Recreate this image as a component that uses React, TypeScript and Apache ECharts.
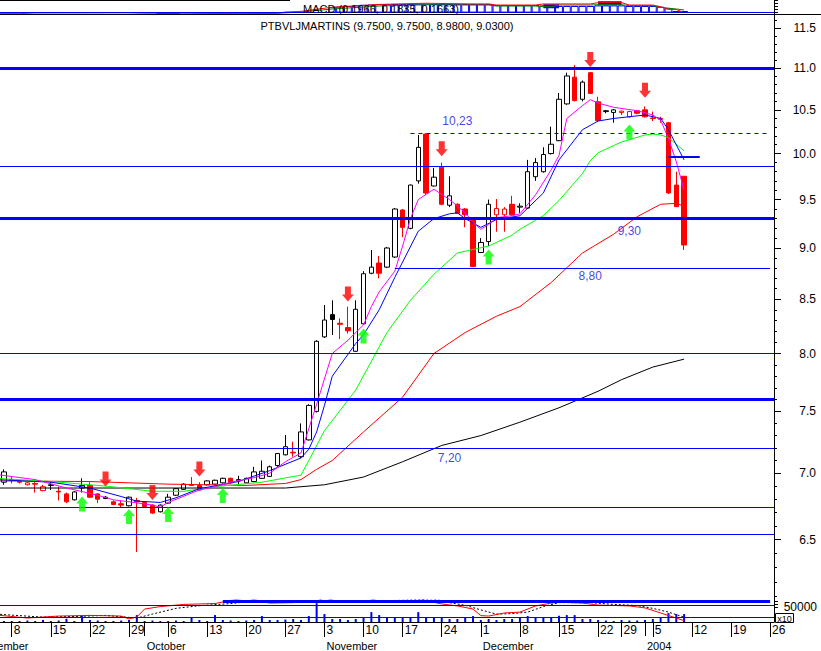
import React, { useEffect, useRef } from 'react';
import * as echarts from 'echarts';

const FONT = '"Liberation Sans", Arial, Helvetica, sans-serif';
const TITLE = 'PTBVLJMARTINS (9.7500, 9.7500, 8.9800, 9.0300)';
const TOP_TEXT = 'MACD (0.1966, 0.1835, 0.1663)';

const HOLIDAYS = ['2003-12-25', '2003-12-26', '2004-01-01'];
function tradingDays(start: string, end: string): string[] {
  const out: string[] = [];
  const d = new Date(start + 'T00:00:00Z');
  const e = new Date(end + 'T00:00:00Z');
  while (d.getTime() <= e.getTime()) {
    const wd = d.getUTCDay();
    const s = d.toISOString().slice(0, 10);
    if (wd !== 0 && wd !== 6 && HOLIDAYS.indexOf(s) < 0) out.push(s);
    d.setUTCDate(d.getUTCDate() + 1);
  }
  return out;
}
const days = tradingDays('2003-09-01', '2004-01-26');
const FIRST_CANDLE = '2003-09-05';

// OHLC, one per trading day from 2003-09-05 to 2004-01-09
const opens = [6.93,6.95,6.935,6.91,6.92,6.865,6.905,6.86,6.84,6.795,6.885,6.905,6.84,6.805,6.78,6.765,6.75,6.79,6.775,6.755,6.705,6.77,6.83,6.875,6.91,6.905,6.91,6.915,6.925,6.96,6.94,6.925,6.935,6.96,6.975,7.06,7.145,7.165,7.13,7.265,7.50,8.15,8.355,8.275,8.235,8.02,8.27,8.75,8.85,8.81,8.91,9.39,9.20,9.70,10.22,9.645,9.85,9.44,9.45,9.40,9.29,8.955,9.065,9.34,9.34,9.45,9.42,9.41,9.745,9.80,10.00,10.145,10.57,10.89,10.625,10.945,10.595,10.48,10.47,10.47,10.42,10.49,10.50,10.405,10.40,10.35,9.655,9.75];
const highs = [7.03,6.97,6.945,6.93,6.93,6.91,6.93,6.895,6.85,6.86,6.96,6.93,6.845,6.825,6.79,6.79,6.82,6.81,6.78,6.76,6.76,6.84,6.885,6.92,6.97,6.93,6.945,6.95,6.965,6.965,6.98,6.965,7.05,7.10,7.06,7.16,7.305,7.25,7.40,7.56,8.12,8.445,8.49,8.32,8.43,8.49,8.77,8.98,8.92,9.01,9.41,9.40,9.66,10.21,10.23,9.84,9.90,9.75,9.46,9.41,9.30,9.10,9.50,9.505,9.42,9.54,9.46,9.93,9.95,10.07,10.305,10.70,10.945,11.04,10.85,10.95,10.655,10.50,10.51,10.49,10.49,10.50,10.54,10.48,10.42,10.36,9.80,9.75];
const lows = [6.91,6.92,6.92,6.905,6.85,6.86,6.87,6.79,6.77,6.79,6.85,6.81,6.77,6.80,6.755,6.74,6.745,6.41,6.74,6.69,6.70,6.765,6.825,6.87,6.90,6.865,6.905,6.91,6.92,6.92,6.91,6.92,6.93,6.955,6.97,7.05,7.14,7.13,7.12,7.26,7.49,8.14,8.167,8.13,8.18,8.015,8.26,8.74,8.70,8.80,8.90,9.11,9.19,9.67,9.55,9.64,9.44,9.42,9.35,9.21,8.81,8.95,9.02,9.165,9.165,9.33,9.36,9.40,9.70,9.79,9.99,10.14,10.56,10.60,10.60,10.69,10.36,10.46,10.35,10.44,10.41,10.45,10.41,10.37,10.35,9.56,9.42,8.98];
const closes = [7.01,6.945,6.93,6.925,6.915,6.895,6.91,6.855,6.78,6.855,6.905,6.815,6.80,6.815,6.76,6.755,6.815,6.78,6.745,6.695,6.755,6.815,6.88,6.915,6.905,6.87,6.94,6.945,6.96,6.925,6.95,6.96,7.01,7.015,7.05,7.155,7.21,7.16,7.33,7.55,8.11,8.305,8.31,8.265,8.205,8.405,8.745,8.81,8.75,9.00,9.40,9.21,9.655,10.07,9.57,9.74,9.45,9.54,9.355,9.34,8.815,9.055,9.45,9.405,9.40,9.34,9.43,9.80,9.90,9.99,10.105,10.625,10.905,10.61,10.83,10.695,10.375,10.49,10.50,10.485,10.48,10.46,10.42,10.40,10.39,9.57,9.425,9.03];
const volumes = [3300,3300,3300,5000,3300,6700,3300,5000,11000,3300,20000,6700,5000,3300,3300,5000,6700,23300,3300,5000,3300,3300,5000,3300,16700,6700,3300,23300,6700,5000,3300,5000,6700,20000,6700,6700,8300,10000,6700,20000,63300,26700,10000,10000,6700,10000,16700,33300,23300,16700,16700,13300,16700,33300,16700,16700,13300,10000,10000,16700,20000,6700,10000,6700,10000,10000,16700,20000,16700,16700,16700,21000,23300,23300,10000,10000,6700,5000,3300,6700,5000,5000,6700,10000,13300,30000,26700,26700];

// moving-average style lines at sample dates
const maFast: [string, number][] = [['2003-09-04',6.99],['2003-09-11',6.95],['2003-09-17',6.885],['2003-09-23',6.83],['2003-09-25',6.795],['2003-09-29',6.78],['2003-10-02',6.755],['2003-10-03',6.74],['2003-10-06',6.775],['2003-10-10',6.87],['2003-10-14',6.895],['2003-10-16',6.93],['2003-10-21',6.965],['2003-10-23',7.00],['2003-10-27',7.09],['2003-10-29',7.16],['2003-10-31',7.56],['2003-11-04',8.00],['2003-11-06',8.12],['2003-11-10',8.26],['2003-11-11',8.43],['2003-11-12',8.57],['2003-11-14',8.77],['2003-11-17',9.02],['2003-11-18',9.30],['2003-11-19',9.50],['2003-11-21',9.61],['2003-11-25',9.50],['2003-11-26',9.43],['2003-11-27',9.36],['2003-11-28',9.26],['2003-12-01',9.19],['2003-12-02',9.24],['2003-12-03',9.31],['2003-12-05',9.33],['2003-12-08',9.35],['2003-12-10',9.55],['2003-12-12',9.82],['2003-12-15',9.98],['2003-12-16',10.40],['2003-12-18',10.55],['2003-12-19',10.62],['2003-12-22',10.58],['2003-12-24',10.53],['2003-12-31',10.49],['2004-01-05',10.44],['2004-01-06',10.38],['2004-01-07',10.17],['2004-01-08',9.91],['2004-01-09',9.60]];
const maBlue: [string, number][] = [['2003-09-04',6.95],['2003-09-15',6.93],['2003-09-22',6.885],['2003-09-26',6.82],['2003-09-30',6.785],['2003-10-03',6.775],['2003-10-07',6.81],['2003-10-10',6.88],['2003-10-17',6.935],['2003-10-23',7.02],['2003-10-29',7.12],['2003-10-30',7.19],['2003-10-31',7.33],['2003-11-03',7.55],['2003-11-04',7.80],['2003-11-07',8.09],['2003-11-10',8.17],['2003-11-12',8.40],['2003-11-14',8.71],['2003-11-19',9.17],['2003-11-21',9.30],['2003-11-25',9.35],['2003-11-26',9.36],['2003-11-27',9.30],['2003-12-01',9.21],['2003-12-03',9.29],['2003-12-08',9.33],['2003-12-11',9.57],['2003-12-15',9.93],['2003-12-18',10.27],['2003-12-22',10.37],['2003-12-24',10.40],['2003-12-30',10.42],['2004-01-02',10.44],['2004-01-06',10.40],['2004-01-07',10.27],['2004-01-09',9.93]];
const maGreen: [string, number][] = [['2003-09-04',6.96],['2003-09-15',6.935],['2003-09-24',6.90],['2003-10-02',6.86],['2003-10-08',6.86],['2003-10-14',6.895],['2003-10-22',6.93],['2003-10-29',6.985],['2003-10-30',7.10],['2003-11-03',7.34],['2003-11-07',7.68],['2003-11-13',8.19],['2003-11-18',8.49],['2003-11-21',8.74],['2003-11-26',8.95],['2003-12-02',9.02],['2003-12-05',9.13],['2003-12-08',9.19],['2003-12-11',9.33],['2003-12-15',9.49],['2003-12-18',9.78],['2003-12-19',9.92],['2003-12-22',10.01],['2003-12-29',10.13],['2004-01-02',10.21],['2004-01-05',10.22],['2004-01-06',10.21],['2004-01-07',10.18],['2004-01-09',10.03]];
const maRed: [string, number][] = [['2003-09-04',6.94],['2003-09-22',6.935],['2003-10-06',6.915],['2003-10-20',6.905],['2003-10-27',6.92],['2003-10-29',6.95],['2003-10-31',7.03],['2003-11-04',7.10],['2003-11-10',7.33],['2003-11-17',7.62],['2003-11-21',8.00],['2003-11-27',8.19],['2003-12-03',8.34],['2003-12-08',8.43],['2003-12-12',8.66],['2003-12-18',8.95],['2003-12-24',9.14],['2003-12-31',9.32],['2004-01-06',9.45],['2004-01-08',9.46],['2004-01-09',9.43]];
const maBlack: [string, number][] = [['2003-09-04',6.885],['2003-10-27',6.885],['2003-11-03',6.91],['2003-11-10',6.97],['2003-11-17',7.09],['2003-11-24',7.22],['2003-12-01',7.30],['2003-12-08',7.41],['2003-12-15',7.53],['2003-12-22',7.67],['2003-12-29',7.77],['2004-01-05',7.88],['2004-01-09',7.95]];

// signal arrows
const sellArrows: [string, number][] = [['2003-09-24',6.954],['2003-10-02',6.851],['2003-10-10',7.032],['2003-11-06',8.55],['2003-11-24',10.055],['2003-12-19',11.107],['2004-01-02',10.732]];
const buyArrows: [string, number][] = [['2003-09-19',6.763],['2003-09-29',6.670],['2003-10-06',6.684],['2003-10-15',6.828],['2003-11-10',8.158],['2003-12-02',8.91],['2003-12-30',10.244]];

// horizontal levels
const thickLevels = [11.0, 9.3, 7.6];
const thinLevels = [9.86, 8.0, 7.2, 6.74, 6.54];
const dashedLevel = { from: '2003-11-18', value: 10.23 };
const partialLevel = { from: '2003-11-14', value: 8.8 };
const shortLevel = { from: '2004-01-07', to: '2004-01-13', value: 9.96 };
const levelLabels: [string, number, string][] = [['2003-11-26', 10.37, '10,23'], ['2003-12-30', 9.17, '9,30'], ['2003-12-19', 8.72, '8,80'], ['2003-11-25', 7.12, '7,20']];

// top indicator panel
const HIST_START = '2003-11-04';
const macdHist = [0.45,0.5,0.55,0.6,0.65,0.68,0.7,0.7,0.72,0.72,0.72,0.74,0.74,0.72,0.72,0.72,0.72,0.72,0.72,0.72,0.72,0.63,0.63,0.63,0.63,0.63,0.63,0.6,0.6,0.55,0.55,0.55,0.55,0.55,0.6,0.6,0.6,0.6,0.55,0.55,0.55,0.55,0.49,0.36,0.13,0.13];
const macdNeg: [string, number][] = [['2003-10-03',-0.2],['2003-10-06',-0.2],['2003-10-07',-0.2]];
const macdBlock: [string, number | null][] = [['2003-12-11',0.53],['2003-12-12',0.53],['2003-12-15',0.53],['2003-12-16',null],['2003-12-22',0.77],['2003-12-23',0.77],['2003-12-24',0.77],['2003-12-29',0.77]];
const macdRed: [string, number][] = [['2003-09-04',-0.06],['2003-09-09',-0.06],['2003-09-11',-0.14],['2003-09-29',-0.14],['2003-10-01',-0.1],['2003-10-09',-0.1],['2003-10-17',-0.06],['2003-10-24',-0.06],['2003-10-27',0.05],['2003-10-29',0.1],['2003-11-04',0.45],['2003-11-12',0.68],['2003-11-20',0.78],['2003-11-28',0.72],['2003-12-02',0.72],['2003-12-03',0.63],['2003-12-10',0.63],['2003-12-11',0.72],['2003-12-19',0.72],['2003-12-22',0.83],['2003-12-29',0.83],['2003-12-30',0.63],['2004-01-05',0.63],['2004-01-06',0.49],['2004-01-07',0.27],['2004-01-08',0.27],['2004-01-09',-0.01]];
const macdGreen: [string, number][] = [['2003-09-04',-0.12],['2003-10-01',-0.15],['2003-10-02',-0.17],['2003-10-09',-0.12],['2003-10-13',-0.1],['2003-10-20',-0.1],['2003-10-24',-0.05],['2003-10-29',0.05],['2003-11-04',0.3],['2003-11-12',0.55],['2003-11-20',0.65],['2003-11-28',0.63],['2003-12-02',0.63],['2003-12-03',0.55],['2003-12-10',0.55],['2003-12-11',0.49],['2003-12-12',0.49],['2003-12-15',0.63],['2003-12-19',0.63],['2003-12-22',0.66],['2003-12-29',0.66],['2003-12-30',0.58],['2004-01-05',0.58],['2004-01-06',0.44],['2004-01-08',0.3],['2004-01-09',0.22]];

// lower oscillator panel
const oscRed: [string, number][] = [['2003-09-04',0.32],['2003-09-10',0.18],['2003-09-16',0.27],['2003-09-22',0.30],['2003-09-26',0.27],['2003-09-29',0.14],['2003-09-30',0.23],['2003-10-01',0.59],['2003-10-03',0.70],['2003-10-08',0.80],['2003-10-14',0.84],['2003-10-16',0.98],['2003-10-20',1.1],['2003-10-23',0.86],['2003-10-28',0.88],['2003-10-31',0.95],['2003-11-03',1.1],['2003-11-05',0.9],['2003-11-10',0.9],['2003-11-12',1.1],['2003-11-19',1.1],['2003-11-20',0.97],['2003-11-24',0.82],['2003-11-26',0.73],['2003-11-28',0.59],['2003-12-01',0.29],['2003-12-02',0.27],['2003-12-04',0.41],['2003-12-08',0.45],['2003-12-10',0.73],['2003-12-12',0.86],['2003-12-15',0.90],['2003-12-18',0.86],['2003-12-22',0.77],['2003-12-30',0.73],['2004-01-02',0.64],['2004-01-06',0.41],['2004-01-08',0.18],['2004-01-09',0.06]];
const oscBlack: [string, number][] = [['2003-09-04',0.36],['2003-09-12',0.22],['2003-09-18',0.25],['2003-09-24',0.30],['2003-09-30',0.18],['2003-10-02',0.36],['2003-10-07',0.62],['2003-10-10',0.74],['2003-10-16',0.84],['2003-10-21',0.95],['2003-10-24',0.93],['2003-10-29',0.90],['2003-11-03',0.95],['2003-11-07',0.93],['2003-11-12',0.95],['2003-11-21',1.05],['2003-11-25',0.88],['2003-11-27',0.76],['2003-12-01',0.55],['2003-12-03',0.36],['2003-12-05',0.38],['2003-12-09',0.45],['2003-12-11',0.70],['2003-12-15',0.88],['2003-12-19',0.88],['2003-12-24',0.80],['2003-12-31',0.75],['2004-01-05',0.62],['2004-01-07',0.45],['2004-01-09',0.22]];
const oscLevels = [0.76, 0.21];
const oscThick = { from: '2003-10-15', value: 0.955 };

const majorTicks = [6.5, 7.0, 7.5, 8.0, 8.5, 9.0, 9.5, 10.0, 10.5, 11.0, 11.5];
const MONTHS = ['January', 'February', 'March', 'April', 'May', 'June', 'July', 'August', 'September', 'October', 'November', 'December'];

const PMIN = 6.0762;
const PMAX = 11.6727;
const VMAX = 74000;

function buildOption() {
  const LAST = days[days.length - 1];
  const GL = -31.27;
  const GR = 47;
  const first = days.indexOf(FIRST_CANDLE);
  const isMonday = days.map((d) => new Date(d + 'T00:00:00Z').getUTCDay() === 1);
  const showDay = days.map((d, i) => isMonday[i] && i >= first);
  const isMonthStart = days.map((d, i) => i === 0 || d.slice(5, 7) !== days[i - 1].slice(5, 7));
  const candleDays = days.slice(first, first + opens.length);

  const minorTicks: number[] = [];
  for (let k = 61; k <= 116; k++) {
    if (k % 5 !== 0) minorTicks.push(k / 10);
  }

  const candleData = opens.map((o, k) => {
    const c = closes[k];
    const prev = k > 0 ? closes[k - 1] : -Infinity;
    const col = c >= prev ? '#000000' : '#ff0000';
    const fill = c > o ? '#ffffff' : col;
    return {
      value: [candleDays[k], o, c, lows[k], highs[k]],
      itemStyle: { color: fill, color0: fill, borderColor: col, borderColor0: col, borderWidth: 1 },
    };
  });

  const histStart = days.indexOf(HIST_START);
  const histData = macdHist.map((v, k) => [days[histStart + k], v]);
  const volData = volumes.map((v, k) => [candleDays[k], v]);

  const blueLevel = '#0000ff';
  const mainLevels: any[] = [];
  thickLevels.forEach((v) => mainLevels.push({ yAxis: v, lineStyle: { color: blueLevel, width: 3, type: 'solid' } }));
  thinLevels.forEach((v) => mainLevels.push({ yAxis: v, lineStyle: { color: blueLevel, width: 1, type: 'solid' } }));
  mainLevels.push([
    { coord: [dashedLevel.from, dashedLevel.value], lineStyle: { color: blueLevel, width: 1, type: [4, 4] } },
    { coord: [LAST, dashedLevel.value] },
  ]);
  mainLevels.push([
    { coord: [partialLevel.from, partialLevel.value], lineStyle: { color: blueLevel, width: 1, type: 'solid' } },
    { coord: [LAST, partialLevel.value] },
  ]);
  mainLevels.push([
    { coord: [shortLevel.from, shortLevel.value], lineStyle: { color: blueLevel, width: 2, type: 'solid' } },
    { coord: [shortLevel.to, shortLevel.value] },
  ]);

  const lowerLevels: any[] = oscLevels.map((v) => ({ yAxis: v, lineStyle: { color: blueLevel, width: 1, type: 'solid' } }));
  lowerLevels.push([
    { coord: [oscThick.from, oscThick.value], lineStyle: { color: blueLevel, width: 3, type: 'solid' } },
    { coord: [LAST, oscThick.value] },
  ]);

  const maLine = (data: [string, number][], color: string, extra: any = {}) => ({
    type: 'line',
    xAxisIndex: 1,
    yAxisIndex: 1,
    data,
    showSymbol: false,
    symbol: 'none',
    lineStyle: { color, width: 1 },
    itemStyle: { color },
    z: 3,
    silent: true,
    ...extra,
  });

  const gridBase = { left: GL, right: GR, containLabel: false, outerBoundsMode: 'none' };

  return {
    animation: false,
    backgroundColor: '#ffffff',
    textStyle: { fontFamily: FONT },
    grid: [
      { ...gridBase, top: 0, height: 15 },
      { ...gridBase, top: 15, height: 585 },
      { ...gridBase, top: 600, height: 22 },
    ],
    xAxis: [
      { type: 'category', gridIndex: 0, data: days, boundaryGap: true, show: false },
      { type: 'category', gridIndex: 1, data: days, boundaryGap: true, show: false },
      {
        type: 'category', gridIndex: 2, data: days, boundaryGap: true, position: 'bottom',
        axisLine: { show: true, lineStyle: { color: '#000', width: 1 } },
        axisTick: { show: true, alignWithLabel: true, length: 15, interval: (i: number) => isMonday[i], lineStyle: { color: '#000', width: 1 } },
        axisLabel: {
          show: true, interval: (i: number) => showDay[i],
          formatter: (v: string) => String(parseInt(v.slice(8), 10)),
          align: 'left', padding: [0, 0, 0, 2], margin: 2, fontSize: 12, color: '#000', fontFamily: FONT,
        },
        splitLine: { show: false },
      },
      {
        type: 'category', gridIndex: 2, data: days, boundaryGap: true, position: 'bottom', offset: 15,
        axisLine: { show: false },
        axisTick: { show: true, alignWithLabel: true, length: 14, interval: (i: number) => isMonthStart[i], lineStyle: { color: '#000', width: 1 } },
        axisLabel: {
          show: true, interval: (i: number) => isMonthStart[i],
          formatter: (v: string) => {
            const m = parseInt(v.slice(5, 7), 10);
            return m === 1 ? v.slice(0, 4) : MONTHS[m - 1];
          },
          align: 'left', padding: [0, 0, 0, 2], margin: 3, fontSize: 11, color: '#000', fontFamily: FONT,
        },
        splitLine: { show: false },
      },
    ],
    yAxis: [
      {
        type: 'value', gridIndex: 0, position: 'right', min: -0.2, max: 1.05,
        axisLine: { show: true, lineStyle: { color: '#000' } },
        axisTick: { show: true, customValues: [0, 0.25, 0.5, 0.75, 1.0], length: 4, lineStyle: { color: '#000' } },
        axisLabel: { show: false }, splitLine: { show: false },
      },
      {
        type: 'log', gridIndex: 1, position: 'right', min: PMIN, max: PMAX, logBase: 10,
        axisLine: { show: true, lineStyle: { color: '#000' } },
        axisTick: { show: true, customValues: majorTicks, length: 7, lineStyle: { color: '#000' } },
        axisLabel: {
          show: true, customValues: majorTicks, formatter: (v: number) => Number(v).toFixed(1),
          align: 'right', margin: 42, fontSize: 12, color: '#000', fontFamily: FONT,
        },
        splitLine: { show: false }, minorTick: { show: false }, minorSplitLine: { show: false },
      },
      {
        type: 'log', gridIndex: 1, position: 'right', min: PMIN, max: PMAX, logBase: 10,
        axisLine: { show: false },
        axisTick: { show: true, customValues: minorTicks, length: 3, lineStyle: { color: '#000' } },
        axisLabel: { show: false }, splitLine: { show: false },
      },
      {
        type: 'value', gridIndex: 2, position: 'right', min: 0, max: VMAX,
        axisLine: { show: true, lineStyle: { color: '#000' } },
        axisTick: { show: true, customValues: [50000, 60000, 70000], length: 4, lineStyle: { color: '#000' } },
        axisLabel: {
          show: true, customValues: [50000], formatter: (v: number) => String(v),
          align: 'right', margin: 43, fontSize: 12, color: '#000', fontFamily: FONT,
        },
        splitLine: { show: false },
      },
      { type: 'value', gridIndex: 2, position: 'right', min: 0, max: 1, show: false },
    ],
    series: [
      // top panel
      {
        type: 'bar', xAxisIndex: 0, yAxisIndex: 0, data: histData, barCategoryGap: '0%', barGap: '-100%',
        itemStyle: { color: '#ffffff', borderColor: '#0000ff', borderWidth: 1 }, silent: true, z: 1,
        markLine: {
          silent: true, symbol: ['none', 'none'], label: { show: false },
          data: [{ yAxis: 0, lineStyle: { color: '#0000ff', width: 1, type: 'solid' } }],
        },
      },
      {
        type: 'bar', xAxisIndex: 0, yAxisIndex: 0, data: macdNeg, barCategoryGap: '0%', barGap: '-100%',
        itemStyle: { color: '#0000ff', borderColor: '#0000ff', borderWidth: 0 }, silent: true, z: 1,
      },
      {
        type: 'line', xAxisIndex: 0, yAxisIndex: 0, data: macdBlock, showSymbol: false, symbol: 'none',
        connectNulls: false, lineStyle: { color: '#0000ff', width: 4, cap: 'butt' }, z: 2, silent: true,
      },
      { type: 'line', xAxisIndex: 0, yAxisIndex: 0, data: macdGreen, showSymbol: false, symbol: 'none', lineStyle: { color: '#008000', width: 1 }, z: 3, silent: true },
      { type: 'line', xAxisIndex: 0, yAxisIndex: 0, data: macdRed, showSymbol: false, symbol: 'none', lineStyle: { color: '#ff0000', width: 1 }, z: 3, silent: true },

      // main panel
      {
        type: 'candlestick', xAxisIndex: 1, yAxisIndex: 1, data: candleData,
        encode: { x: 0, y: [1, 2, 3, 4] }, barWidth: 5, z: 2, silent: true,
      },
      maLine(maBlack, '#000000', {
        markLine: { silent: true, symbol: ['none', 'none'], label: { show: false }, data: mainLevels, z: 4 },
      }),
      maLine(maRed, '#ff0000'),
      maLine(maGreen, '#00ff00'),
      maLine(maBlue, '#0000ff'),
      maLine(maFast, '#ff00ff'),
      {
        type: 'scatter', xAxisIndex: 1, yAxisIndex: 1, data: sellArrows,
        symbol: 'path://M3,0L9,0L9,8L12,8L6,15L0,8L3,8Z', symbolSize: [12, 15],
        itemStyle: { color: '#ff0000' }, z: 6, silent: true,
      },
      {
        type: 'scatter', xAxisIndex: 1, yAxisIndex: 1, data: buyArrows,
        symbol: 'path://M6,0L12,7L9,7L9,15L3,15L3,7L0,7Z', symbolSize: [12, 15],
        itemStyle: { color: '#00ff00' }, z: 6, silent: true,
      },
      {
        type: 'scatter', xAxisIndex: 1, yAxisIndex: 1,
        data: levelLabels.map((l) => ({ value: [l[0], l[1]], name: l[2] })),
        symbolSize: 0, z: 7, silent: true,
        label: {
          show: true, position: 'inside', formatter: (p: any) => p.name,
          color: '#1010e0', fontSize: 12, fontFamily: FONT,
        },
      },

      // lower panel
      {
        type: 'bar', xAxisIndex: 2, yAxisIndex: 3, data: volData, barWidth: 2,
        itemStyle: { color: '#0000ff' }, silent: true, z: 1,
      },
      {
        type: 'line', xAxisIndex: 2, yAxisIndex: 4, data: oscBlack, showSymbol: false, symbol: 'none',
        lineStyle: { color: '#000000', width: 1, type: [2, 2] }, z: 2, silent: true,
      },
      {
        type: 'line', xAxisIndex: 2, yAxisIndex: 4, data: oscRed, showSymbol: false, symbol: 'none',
        lineStyle: { color: '#ff0000', width: 1 }, z: 3, silent: true,
        markLine: { silent: true, symbol: ['none', 'none'], label: { show: false }, data: lowerLevels },
      },
    ],
    graphic: [
      { type: 'line', shape: { x1: 0, y1: 14.5, x2: 821, y2: 14.5 }, style: { stroke: '#000', lineWidth: 1 }, z: 20, silent: true },
      { type: 'line', shape: { x1: 0, y1: 0.5, x2: 290, y2: 0.5 }, style: { stroke: '#000', lineWidth: 1 }, z: 20, silent: true },
      {
        type: 'text', x: 303, y: 9, z: 20, silent: true,
        style: { text: TOP_TEXT, fill: '#000', fontSize: 11, fontFamily: FONT, align: 'left', verticalAlign: 'middle' },
      },
      {
        type: 'text', x: 387, y: 26, z: 20, silent: true,
        style: { text: TITLE, fill: '#000', fontSize: 11, fontFamily: FONT, align: 'center', verticalAlign: 'middle' },
      },
      {
        type: 'rect', shape: { x: 775.5, y: 613.5, width: 18, height: 9 }, z: 20, silent: true,
        style: { fill: '#ffffff', stroke: '#000', lineWidth: 1 },
      },
      {
        type: 'text', x: 784.5, y: 618.5, z: 21, silent: true,
        style: { text: 'x10', fill: '#000', fontSize: 9, fontFamily: FONT, align: 'center', verticalAlign: 'middle' },
      },
    ],
  };
}

export default function App() {
  const ref = useRef<HTMLDivElement>(null);
  useEffect(() => {
    document.body.style.margin = '0';
    const chart = echarts.init(ref.current as HTMLDivElement, null, { renderer: 'svg' });
    chart.setOption(buildOption() as any);
    return () => chart.dispose();
  }, []);
  return (
    <div
      ref={ref}
      style={{ position: 'absolute', left: 0, top: 0, width: 821, height: 651, background: '#ffffff' }}
    />
  );
}
